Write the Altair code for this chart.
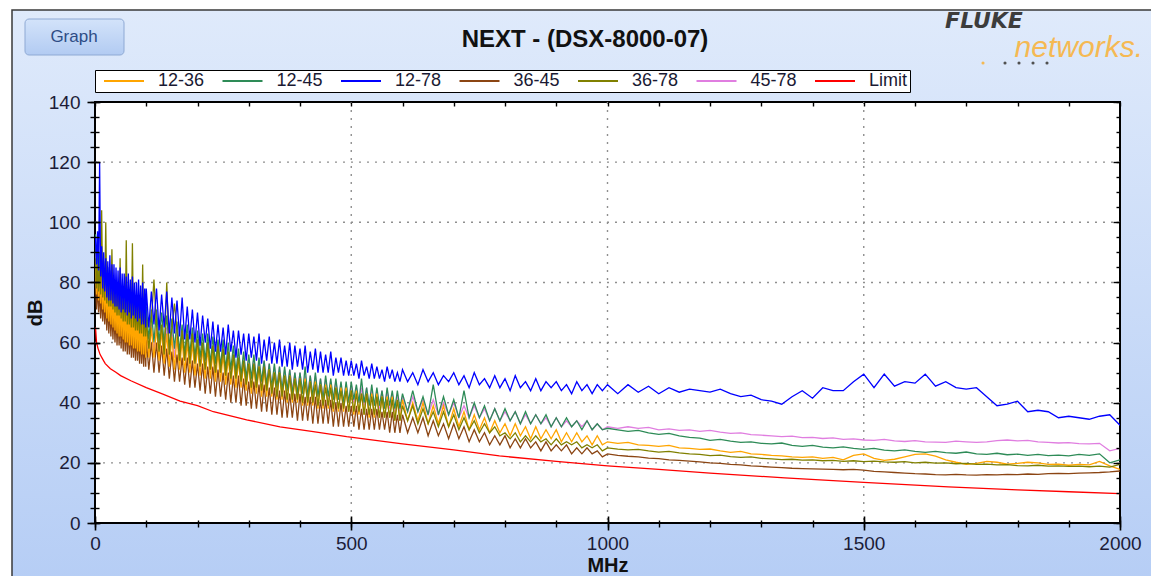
import altair as alt
import pandas as pd

FONT = "Liberation Sans"
TITLE = "NEXT - (DSX-8000-07)"
BUTTON = "Graph"
LOGO_TOP = "FLUKE"
LOGO_BOTTOM = "networks."

SERIES = ["12-36", "12-45", "12-78", "36-45", "36-78", "45-78", "Limit"]
COLORS = ["#FFA500", "#2E8B57", "#0000FF", "#8B4513", "#808000", "#E07EE0", "#FF0000"]
DRAW_ORDER = ["45-78", "36-45", "12-45", "12-36", "36-78", "12-78", "Limit"]

X_MAJOR = [0, 500, 1000, 1500, 2000]
X_MINOR = list(range(0, 2001, 100))
Y_MAJOR = [0, 20, 40, 60, 80, 100, 120, 140]
Y_MINOR = list(range(0, 141, 5))
GRID_X = [500, 1000, 1500]
GRID_Y = [20, 40, 60, 80, 100, 120]

# measurement sweep (MHz)
F_SWEEP = (list(range(1, 100, 2)) + list(range(100, 600, 5))
           + list(range(600, 1000, 10)) + list(range(1000, 2001, 20)))

S_12_36 = [
    87, 76, 86, 74, 84, 73, 82, 71, 80, 70,
    79, 68, 78, 67, 77, 66, 76, 65, 75, 64,
    74, 63, 73, 62, 73, 62, 72, 61, 71, 60,
    71, 60, 70, 59, 70, 59, 69, 58, 69, 58,
    68, 57, 68, 57, 67, 56, 67, 56, 66, 55,
    # 100-595
    66, 55, 65, 55, 65, 54, 64, 53, 63, 52,
    62, 51, 62, 51, 61, 50, 60, 50, 60, 49,
    59, 49, 58, 48, 58, 48, 57, 47, 57, 47,
    56, 46, 55, 46, 55, 45, 54, 45, 53, 44,
    53, 43, 52, 43, 52, 42, 51, 42, 51, 42,
    50, 41, 50, 41, 49, 40, 49, 40, 48, 40,
    48, 39, 48, 39, 47, 39, 47, 38, 46, 38,
    46, 38, 46, 37, 45, 37, 45, 37, 45, 37,
    44, 36, 44, 36, 43, 36, 43, 35, 43, 35,
    43, 35, 42, 35, 42, 35, 42, 34, 41, 34,
    # 600-990
    41, 34, 40, 34, 40, 33, 39, 33, 39, 32,
    38, 32, 37, 31, 36, 31, 35, 30, 34, 30,
    33, 29, 33, 29, 32, 28, 32, 28, 31, 28,
    31, 27, 30, 27, 30, 27, 29, 26, 29, 26,
    # 1000-2000
    27, 26.5, 26.8, 26, 25.8, 25.5, 25.8, 25, 24.8, 24.5,
    24.6, 24, 23.5, 23.8, 23, 22.8, 22.5, 22.3, 22, 21.8,
    22, 21.5, 21.8, 21, 22.5, 23, 21.5, 20.8, 21.2, 22,
    22.8, 23, 22.2, 21, 20.2, 19.5, 19.8, 20.5, 20.2, 19.6,
    19.8, 20.2, 20, 19.5, 19.6, 19.2, 19.5, 19.3, 20.5, 19, 17.8]

S_12_45 = [
    96, 84, 92, 82, 90, 80, 88, 78, 87, 77,
    86, 76, 85, 75, 84, 74, 82, 73, 81, 72,
    80, 71, 79, 70, 79, 70, 78, 69, 77, 68,
    76, 67, 76, 67, 75, 66, 75, 66, 74, 65,
    74, 65, 73, 64, 73, 64, 72, 63, 72, 62,
    # 100-595
    72, 61, 71, 60, 71, 60, 70, 59, 69, 58,
    68, 58, 67, 57, 66, 56, 66, 56, 65, 55,
    64, 55, 63, 54, 63, 53, 62, 53, 61, 52,
    61, 51, 60, 51, 59, 50, 58, 49, 57, 48,
    56, 48, 56, 47, 55, 47, 54, 46, 53, 45,
    53, 45, 52, 44, 52, 44, 51, 43, 50, 43,
    50, 43, 52, 42, 49, 42, 50, 42, 48, 41,
    49, 42, 48, 41, 48, 41, 47, 40, 47, 40,
    47, 41, 46, 40, 48, 40, 45, 39, 46, 39,
    45, 39, 44, 38, 45, 39, 44, 38, 44, 38,
    # 600-990
    43, 37, 44, 37, 42, 36, 46, 36, 42, 36,
    41, 35, 44, 35, 40, 35, 39, 34, 38, 34,
    38, 34, 37, 33, 37, 33, 36, 33, 36, 32,
    35, 32, 35, 32, 34, 31, 34, 31, 33, 31,
    # 1000-2000
    31.5, 31, 30.5, 30.8, 30, 29.5, 29.8, 29, 28.5, 28.2,
    27.5, 27.8, 27.2, 26.8, 27, 26.5, 26.3, 26.6, 25.8, 25.5,
    25.8, 25.2, 25, 25.3, 24.8, 24.5, 24.8, 24.2, 24, 24.3,
    23.8, 23.5, 23.8, 23.4, 23.2, 23.6, 23, 22.8, 23.2, 22.7,
    22.9, 22.5, 22.8, 22.4, 22.6, 22.3, 22.8, 22.5, 23, 20, 21]

S_12_78 = [
    95, 86, 97, 84, 120, 82, 92, 78, 90, 77,
    88, 75, 87, 74, 89, 74, 86, 73, 86, 72,
    85, 72, 84, 71, 85, 70, 83, 71, 83, 70,
    82, 69, 83, 70, 81, 68, 82, 69, 80, 68,
    80, 67, 81, 68, 79, 66, 80, 66, 78, 65,
    # 100-595
    78, 65, 77, 66, 78, 64, 76, 65, 77, 63,
    75, 63, 74, 62, 75, 61, 72, 61, 71, 60,
    70, 59, 69, 60, 68, 58, 67, 57, 66, 57,
    65, 56, 66, 57, 64, 55, 64, 56, 63, 54,
    63, 55, 62, 54, 63, 53, 61, 54, 62, 53,
    60, 53, 61, 52, 59, 52, 60, 51, 59, 52,
    58, 51, 59, 50, 57, 51, 58, 50, 57, 50,
    56, 50, 57, 49, 55, 50, 55, 49, 54, 49,
    54, 49, 53, 48, 54, 49, 52, 48, 53, 48,
    52, 48, 51, 47, 52, 48, 51, 47, 50, 47,
    # 600-990
    51, 47, 50, 46, 51, 47, 50, 46, 49, 47,
    50, 46, 49, 45, 50, 46, 48, 45, 49, 45,
    48, 44, 49, 45, 47, 44, 48, 44, 47, 45,
    47, 44, 46, 43, 47, 44, 46, 43, 46, 44,
    # 1000-2000
    46, 43, 46, 43.5, 45.5, 43, 45, 43.5, 44.5, 44,
    43.5, 44.5, 43, 42, 42.5, 41, 40.5, 39.5, 42, 44,
    41.5, 45, 44, 44, 47, 49.5, 45, 49.5, 45.5, 47,
    46.5, 49.5, 45.5, 47, 45, 44.5, 45, 42, 39, 39.5,
    40.5, 37, 37.5, 37, 35, 35.5, 35, 34.5, 35.5, 36, 32.5]

S_36_45 = [
    81, 71, 79, 70, 78, 68, 76, 67, 75, 66,
    74, 64, 73, 63, 72, 62, 71, 61, 70, 60,
    69, 59, 68, 59, 68, 58, 67, 57, 66, 57,
    66, 56, 65, 56, 65, 55, 64, 55, 63, 54,
    63, 54, 63, 53, 62, 53, 62, 52, 61, 52,
    # 100-595
    61, 51, 60, 50, 60, 50, 59, 49, 58, 48,
    57, 47, 56, 47, 55, 46, 55, 45, 54, 45,
    53, 44, 53, 43, 52, 43, 52, 42, 51, 42,
    50, 41, 50, 40, 49, 40, 49, 39, 48, 39,
    47, 38, 47, 38, 46, 37, 46, 37, 45, 36,
    45, 36, 44, 35, 44, 35, 43, 35, 43, 34,
    43, 34, 42, 34, 42, 33, 42, 33, 41, 33,
    41, 33, 41, 32, 40, 32, 40, 32, 39, 32,
    39, 32, 39, 31, 38, 31, 38, 31, 38, 31,
    38, 31, 37, 31, 37, 30, 37, 30, 36, 30,
    # 600-990
    36, 30, 35, 30, 35, 29, 34, 29, 33, 28,
    33, 28, 32, 27, 31, 27, 30, 26, 29, 26,
    29, 25, 28, 25, 28, 25, 27, 24, 27, 24,
    26, 24, 26, 23, 25, 23, 25, 23, 24, 22,
    # 1000-2000
    23, 22.5, 22.2, 22, 21.6, 21.4, 21, 20.8, 20.6, 20.3,
    20, 19.8, 19.5, 19.3, 19, 18.8, 18.6, 18.4, 18.2, 18.1,
    18, 17.9, 17.8, 17.7, 17.8, 17.6, 17.2, 17, 16.8, 16.6,
    16.4, 16.3, 16.1, 16, 16.2, 16, 15.9, 16.1, 16, 16.2,
    16.1, 16.3, 16.2, 16.4, 16.5, 16.4, 16.6, 16.7, 16.8, 17, 17.3]

S_36_78 = [
    88, 78, 86, 77, 85, 76, 104, 75, 84, 74,
    100, 73, 82, 72, 81, 72, 91, 71, 80, 70,
    79, 69, 78, 69, 88, 68, 77, 67, 76, 67,
    94, 66, 75, 66, 74, 65, 93, 65, 73, 64,
    72, 64, 72, 63, 71, 63, 86, 62, 70, 62,
    # 100-595
    68, 58, 67, 81, 66, 57, 66, 56, 80, 56,
    65, 73, 64, 54, 64, 54, 63, 53, 63, 53,
    61, 52, 60, 51, 60, 51, 59, 50, 59, 50,
    58, 49, 57, 48, 56, 48, 55, 47, 54, 46,
    53, 45, 53, 45, 52, 44, 52, 44, 51, 43,
    50, 42, 50, 42, 49, 41, 49, 41, 48, 41,
    48, 40, 47, 40, 47, 40, 46, 39, 46, 39,
    45, 39, 45, 38, 45, 38, 44, 38, 44, 37,
    44, 37, 43, 37, 43, 36, 43, 36, 42, 36,
    42, 35, 42, 35, 41, 35, 41, 34, 41, 34,
    # 600-990
    39, 34, 39, 33, 38, 33, 37, 32, 37, 32,
    36, 31, 35, 31, 34, 30, 33, 30, 32, 29,
    30, 28, 30, 27, 29, 27, 29, 27, 28, 26,
    28, 26, 27, 26, 27, 25, 26, 25, 26, 24,
    # 1000-2000
    25, 24.6, 24.3, 24.5, 24, 23.6, 23.8, 23.3, 23, 22.8,
    22.4, 22.6, 22.1, 21.8, 22, 21.5, 21.3, 21.1, 21.2, 20.9,
    21, 20.7, 20.8, 20.5, 20.7, 20.4, 20.6, 20.3, 20.2, 20.4,
    20, 20.2, 19.9, 20, 19.7, 19.8, 19.5, 19.6, 19.3, 19.4,
    19.1, 19, 19.2, 18.9, 19, 18.8, 18.9, 18.7, 18.9, 18.6, 19.5]

S_45_78 = [
    90, 79, 88, 78, 86, 77, 85, 75, 83, 74,
    82, 72, 80, 71, 79, 70, 78, 68, 77, 67,
    77, 67, 76, 66, 76, 66, 75, 65, 75, 64,
    74, 63, 73, 63, 73, 62, 72, 61, 71, 61,
    71, 60, 70, 60, 70, 59, 69, 59, 68, 58,
    # 100-595
    67, 57, 66, 57, 66, 56, 65, 56, 65, 55,
    64, 55, 64, 54, 63, 54, 62, 53, 62, 53,
    61, 52, 60, 52, 60, 51, 59, 51, 59, 50,
    58, 50, 58, 49, 57, 49, 57, 48, 56, 48,
    55, 47, 55, 47, 54, 46, 54, 46, 53, 45,
    52, 45, 52, 44, 51, 44, 51, 44, 50, 43,
    50, 43, 49, 43, 49, 42, 49, 42, 48, 42,
    48, 41, 47, 41, 47, 41, 46, 40, 46, 40,
    46, 40, 45, 40, 45, 39, 45, 39, 44, 39,
    44, 38, 44, 38, 44, 38, 43, 37, 43, 37,
    # 600-990
    42, 37, 42, 37, 41, 36, 41, 36, 40, 36,
    40, 35, 39, 35, 39, 35, 38, 34, 38, 34,
    37, 34, 37, 33, 36, 33, 36, 33, 35, 32,
    35, 32, 34, 32, 34, 32, 34, 31, 33, 31,
    # 1000-2000
    32, 31.5, 32, 31.5, 31.8, 31, 31.3, 30.8, 31, 30.5,
    30.8, 30.2, 29.8, 30, 29.4, 29.2, 29, 28.7, 28.9, 28.4,
    28.5, 28.1, 28.3, 27.8, 28, 27.6, 27.5, 27.8, 27.3, 27.1,
    27.4, 27, 26.9, 26.8, 27.2, 27, 26.8, 27, 27.4, 27.6,
    27.3, 27.5, 27, 26.8, 26.6, 26.7, 26.4, 26.3, 26.5, 24, 24.8]

F_LIMIT = [1, 3, 6, 10, 15, 20, 30, 40, 50, 70, 100, 130, 166, 200, 231, 296, 361, 426, 491,
           600, 700, 789, 900, 1000, 1100, 1200, 1346, 1500, 1665, 1800, 1900, 2000]
LIMIT = [65, 60, 58, 56, 54.5, 53, 51.3, 50.2, 49, 47.3, 45, 43, 40.5, 39, 37, 34.3, 32, 30.4,
         28.7, 26.3, 24.3, 22.3, 20.5, 19, 17.8, 16.6, 15, 13.5, 12, 11, 10.4, 9.8]

VALUES = {"12-36": S_12_36, "12-45": S_12_45, "12-78": S_12_78, "36-45": S_36_45,
          "36-78": S_36_78, "45-78": S_45_78}
for k, v in VALUES.items():
    assert len(v) == len(F_SWEEP), (k, len(v), len(F_SWEEP))

frames = {k: pd.DataFrame({"series": k, "f": F_SWEEP, "v": v}) for k, v in VALUES.items()}
frames["Limit"] = pd.DataFrame({"series": "Limit", "f": F_LIMIT, "v": LIMIT})

W, H = 1025, 421
PAD = {"left": 87, "top": 94, "right": 31, "bottom": 53}

xs = alt.Scale(domain=[0, 2000], nice=False, zero=False)
ys = alt.Scale(domain=[0, 140], nice=False, zero=False)
one = pd.DataFrame({"a": [0]})

legend = alt.Legend(
    title=None, orient="none", legendX=0, legendY=-32, direction="horizontal",
    columns=7, gridAlign="all", symbolType="stroke", symbolSize=1600, symbolOffset=6,
    symbolStrokeWidth=2, clipHeight=18, labelFontSize=18, labelFont=FONT,
    labelColor="#1a1a33", labelOffset=13, columnPadding=10.5, padding=2,
    fillColor="white", strokeColor="black")

color = alt.Color("series:N", scale=alt.Scale(domain=SERIES, range=COLORS), legend=legend)

# ---------- decoration ----------
panel = alt.Chart(one).mark_rect(
    fill={"gradient": "linear", "x1": 0, "y1": 0, "x2": 0, "y2": 1,
          "stops": [{"offset": 0, "color": "#dfeafb"}, {"offset": 1, "color": "#b5cdf5"}]},
    stroke="#3a3a3a", strokeWidth=1.5
).encode(x=alt.value(-83), x2=alt.value(1057), y=alt.value(-92), y2=alt.value(490))

button = alt.Chart(one).mark_rect(
    fill={"gradient": "linear", "x1": 0, "y1": 0, "x2": 0, "y2": 1,
          "stops": [{"offset": 0, "color": "#d3e3fa"}, {"offset": 1, "color": "#b2cbf2"}]},
    stroke="#8ea9d4", strokeWidth=1, cornerRadius=4
).encode(x=alt.value(-70), x2=alt.value(29), y=alt.value(-83), y2=alt.value(-47))

button_text = alt.Chart(one).mark_text(
    text=BUTTON, font=FONT, fontSize=17, color="#2d4c85", align="center", baseline="middle"
).encode(x=alt.value(-21), y=alt.value(-65))

title = alt.Chart(one).mark_text(
    text=TITLE, font=FONT, fontSize=24, fontWeight="bold", color="#111111",
    align="center", baseline="middle"
).encode(x=alt.value(490), y=alt.value(-62))

logo1 = alt.Chart(one).mark_text(
    text=LOGO_TOP, font="DejaVu Sans", fontSize=22, fontWeight="bold", fontStyle="italic",
    color="#3c3c3c", align="center", baseline="middle"
).encode(x=alt.value(889), y=alt.value(-81))

logo2 = alt.Chart(one).mark_text(
    text=LOGO_BOTTOM, font=FONT, fontSize=30, fontStyle="italic",
    color="#f5b953", align="right", baseline="alphabetic"
).encode(x=alt.value(1048), y=alt.value(-45))

LOGO_DOTS = pd.DataFrame({"px": [888, 910, 924, 938, 952],
                          "c": ["#f5b953", "#505050", "#505050", "#505050", "#505050"]})
logo_dots = alt.Chart(LOGO_DOTS).mark_circle(size=10, opacity=1).encode(
    x=alt.X("px:Q", scale=None), y=alt.value(-39),
    color=alt.Color("c:N", scale=None))

plot_bg = alt.Chart(one).mark_rect(fill="white", stroke="black", strokeWidth=2).encode(
    x=alt.value(0), x2=alt.value(W), y=alt.value(0), y2=alt.value(H))

gx = alt.Chart(pd.DataFrame({"g": GRID_X})).mark_rule(
    color="#8f8f8f", strokeDash=[2, 6], strokeWidth=1.4
).encode(x=alt.X("g:Q", scale=xs, axis=None), y=alt.value(0), y2=alt.value(H))

gy = alt.Chart(pd.DataFrame({"g": GRID_Y})).mark_rule(
    color="#8f8f8f", strokeDash=[2, 6], strokeWidth=1.4
).encode(y=alt.Y("g:Q", scale=ys, axis=None), x=alt.value(0), x2=alt.value(W))

lines = [
    alt.Chart(frames[s]).mark_line(strokeWidth=1.3, clip=True).encode(
        x=alt.X("f:Q", scale=xs, axis=None),
        y=alt.Y("v:Q", scale=ys, axis=None),
        color=color,
        order=alt.Order("f:Q"),
    )
    for s in DRAW_ORDER
]

common = dict(domain=False, grid=False, tickColor="black", zindex=1)
lab = dict(labelFont=FONT, labelFontSize=19, labelColor="#1c1c38", labelFlush=False,
           labelOverlap=False, labelBound=False)
tit = dict(titleFont=FONT, titleFontSize=20, titleFontWeight="bold", titleColor="#111111")

AX = [
    (alt.Axis(orient="bottom", values=X_MAJOR, offset=-7, tickSize=14, tickWidth=1.6,
              labelPadding=4, format="d", title="MHz", titlePadding=2, **lab, **tit, **common),
     None),
    (alt.Axis(orient="bottom", values=X_MINOR, offset=-3, tickSize=7, tickWidth=1.4,
              labels=False, title=None, **common), None),
    (alt.Axis(orient="top", values=X_MINOR, offset=-4, tickSize=4, tickWidth=1.4,
              labels=False, title=None, **common), None),
    (None, alt.Axis(orient="left", values=Y_MAJOR, offset=-5, tickSize=13, tickWidth=1.6,
                    labelPadding=7, format="d", title="dB", titlePadding=3,
                    **lab, **tit, **common)),
    (None, alt.Axis(orient="left", values=Y_MINOR, offset=-4, tickSize=9, tickWidth=1.4,
                    labels=False, title=None, **common)),
    (None, alt.Axis(orient="right", values=Y_MINOR, offset=-4, tickSize=4, tickWidth=1.4,
                    labels=False, title=None, **common)),
    (None, alt.Axis(orient="right", values=Y_MAJOR, offset=-7, tickSize=7, tickWidth=1.4,
                    labels=False, title=None, **common)),
]

axis_layers = [
    alt.Chart(frames["Limit"]).mark_point(opacity=0).encode(
        x=alt.X("f:Q", scale=xs, axis=xa),
        y=alt.Y("v:Q", scale=ys, axis=ya),
    )
    for xa, ya in AX
]

chart = alt.layer(
    panel, button, button_text, title, logo1, logo2, logo_dots,
    plot_bg, gx, gy, *lines, *axis_layers
).resolve_scale(x="shared", y="shared", color="shared").resolve_axis(
    x="independent", y="independent"
).properties(
    width=W, height=H, padding=PAD, autosize=alt.AutoSizeParams(type="none")
).configure(background="white").configure_view(stroke=None)

chart.save("out.html", embed_options={"renderer": "svg", "actions": False})
